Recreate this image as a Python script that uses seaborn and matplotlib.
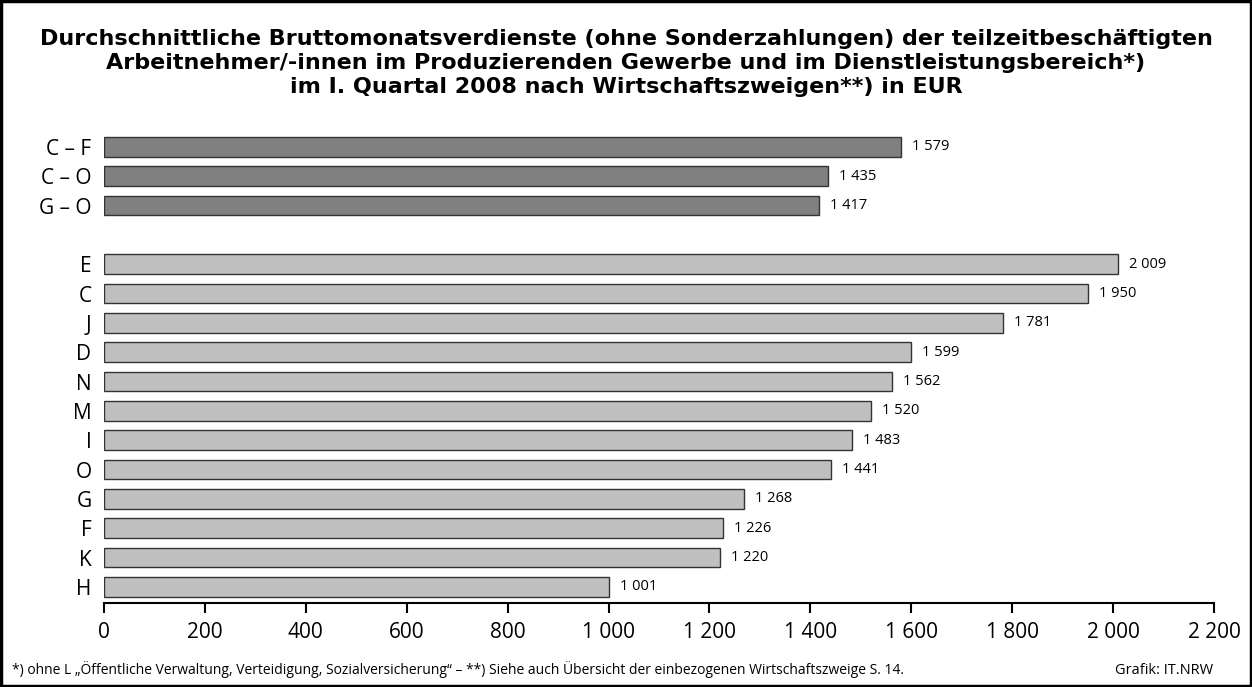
import matplotlib
matplotlib.use("Agg")
import matplotlib.pyplot as plt
import seaborn as sns
import pandas as pd
from matplotlib.patches import Rectangle
from matplotlib.ticker import FuncFormatter

# ---- data ----
groups_total = ["C – F", "C – O", "G – O"]
values_total = [1579, 1435, 1417]
sectors = ["E", "C", "J", "D", "N", "M", "I", "O", "G", "F", "K", "H"]
values_sectors = [2009, 1950, 1781, 1599, 1562, 1520, 1483, 1441, 1268, 1226, 1220, 1001]
xticks = [0, 200, 400, 600, 800, 1000, 1200, 1400, 1600, 1800, 2000, 2200]

title = ("Durchschnittliche Bruttomonatsverdienste (ohne Sonderzahlungen) der teilzeitbeschäftigten\n"
         "Arbeitnehmer/-innen im Produzierenden Gewerbe und im Dienstleistungsbereich*)\n"
         "im I. Quartal 2008 nach Wirtschaftszweigen**) in EUR")
footnote = ("*) ohne L „Öffentliche Verwaltung, Verteidigung, Sozialversicherung“ – **) "
            "Siehe auch Übersicht der einbezogenen Wirtschaftszweige S. 14.")
source = "Grafik: IT.NRW"

dark = "#808080"
light = "#c0c0c0"
gap = "_gap_"

df = pd.DataFrame({
    "cat": groups_total + sectors,
    "val": values_total + values_sectors,
    "grp": ["total"] * len(groups_total) + ["sector"] * len(sectors),
})
order = groups_total + [gap] + sectors

sns.set_style("white")
plt.rcParams["font.family"] = ["Open Sans", "DejaVu Sans"]
plt.rcParams["text.color"] = "black"
plt.rcParams["xtick.color"] = "black"
plt.rcParams["ytick.color"] = "black"

fig = plt.figure(figsize=(12.52, 6.87), dpi=100)
ax = fig.add_axes([104 / 1252, 84 / 687, 1110 / 1252, 471 / 687])

sns.barplot(data=df, y="cat", x="val", hue="grp", order=order,
            palette={"total": dark, "sector": light}, dodge=False,
            orient="h", width=0.67, edgecolor="#333333", linewidth=1.0,
            legend=False, ax=ax)

def fmt(v):
    return f"{int(v):,}".replace(",", " ")

for cont in ax.containers:
    ax.bar_label(cont, labels=[fmt(b.get_width()) for b in cont],
                 padding=8, fontsize=10.5, color="black")

ax.set_xlim(0, 2200)
ax.set_ylim(15.55, -0.51)
ax.set_xticks(xticks)
ax.xaxis.set_major_formatter(FuncFormatter(lambda v, p: fmt(v)))
ax.set_yticks(range(len(order)))
ax.set_yticklabels([("" if c == gap else c) for c in order])
ax.tick_params(axis="x", length=7, width=1.5, color="black", labelsize=15, pad=7,
               direction="out", bottom=True, labelcolor="black")
ax.tick_params(axis="y", length=0, labelsize=15, pad=9, labelcolor="black")
ax.set_xlabel("")
ax.set_ylabel("")
for s in ["left", "right", "top"]:
    ax.spines[s].set_visible(False)
ax.spines["bottom"].set_linewidth(1.5)
ax.spines["bottom"].set_color("black")

fig.text(0.5, 1 - 63 / 687, title, ha="center", va="center", fontsize=16,
         fontweight="bold", linespacing=1.22, color="black",
         family=["DejaVu Sans"])
fig.text(12 / 1252, 1 - 670 / 687, footnote, ha="left", va="center", fontsize=10)
fig.text(1213 / 1252, 1 - 670 / 687, source, ha="right", va="center", fontsize=10.5)

fig.patches.append(Rectangle((1 / 1252, 1 / 687), 1 - 2 / 1252, 1 - 2 / 687,
                             transform=fig.transFigure, fill=False,
                             edgecolor="black", linewidth=2.5))

fig.savefig("out.png", dpi=100)
